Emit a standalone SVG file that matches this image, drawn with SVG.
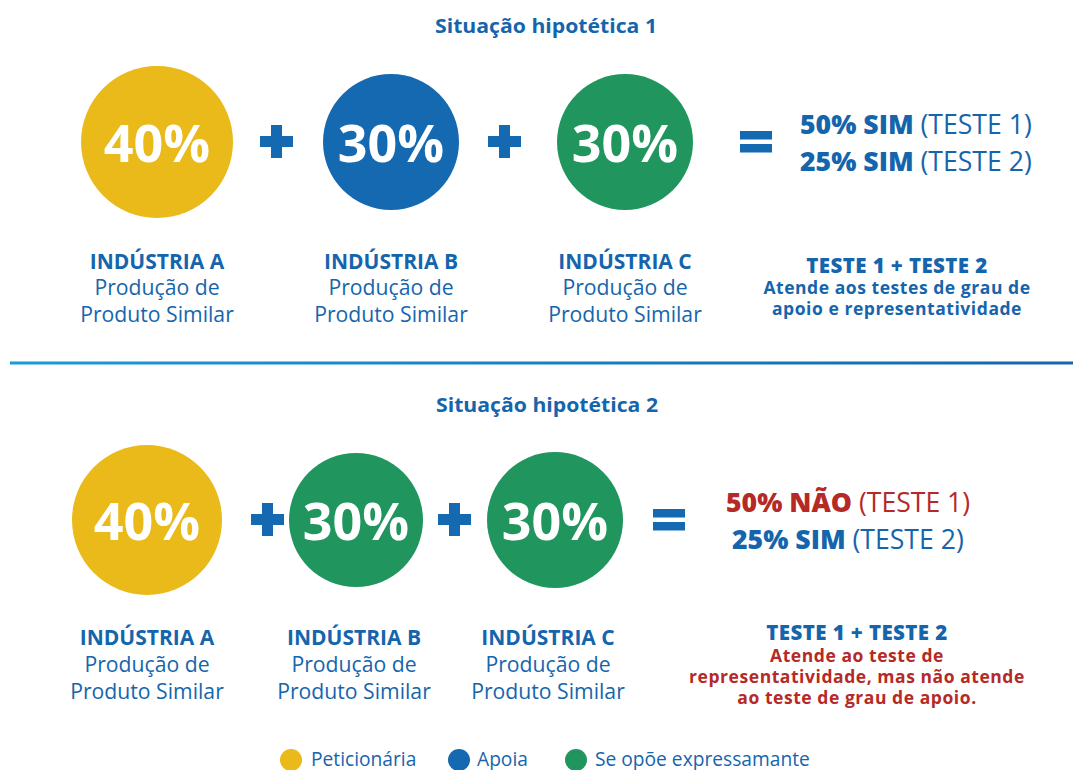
<svg xmlns="http://www.w3.org/2000/svg" width="1073" height="770" viewBox="0 0 1073 770">
  <defs>
    <linearGradient id="divider" x1="0" y1="0" x2="1" y2="0">
      <stop offset="0" stop-color="#1a9bd7"/>
      <stop offset="1" stop-color="#1466ad"/>
    </linearGradient>
  </defs>
  <style>
    text { font-family: "Open Sans", "Noto Sans", "Liberation Sans", sans-serif; }
    .title { font-size: 19px; font-weight: 700; fill: #1565ad; text-anchor: middle; }
    .pct { font-size: 52px; font-weight: 700; fill: #ffffff; text-anchor: middle; }
    .name { font-size: 21px; font-weight: 700; fill: #1565ad; text-anchor: middle; }
    .desc { font-size: 21.2px; font-weight: 400; fill: #1565ad; text-anchor: middle; }
    .res { font-size: 26.6px; fill: #1565ad; }
    .res .b { font-weight: 800; }
    .red { fill: #b52a26; }
    .sum { font-size: 20.5px; font-weight: 800; fill: #1565ad; text-anchor: middle; letter-spacing: 0.4px; }
    .note { font-size: 17.5px; font-weight: 700; fill: #1565ad; text-anchor: middle; letter-spacing: 0.55px; }
    .note.red { fill: #b52a26; }
    .op { fill: #1569b0; }
    .yellow { fill: #eab91a; }
    .blue { fill: #1569b0; }
    .green { fill: #20965e; }
    .legend { font-size: 19.2px; fill: #1565ad; }
  </style>

  <!-- Scenario 1 -->
  <text class="title" x="546" y="33" textLength="222" lengthAdjust="spacingAndGlyphs">Situação hipotética 1</text>

  <g id="s1-industria-a">
    <circle class="yellow" cx="157" cy="142" r="76"/>
    <text class="pct" x="157" y="162">40%</text>
    <text class="name" x="157" y="269">INDÚSTRIA A</text>
    <text class="desc" x="157" y="295">Produção de</text>
    <text class="desc" x="157" y="322">Produto Similar</text>
  </g>
  <g id="s1-plus-1" class="op">
    <rect x="260" y="136" width="33" height="11"/>
    <rect x="271" y="125" width="11" height="33"/>
  </g>
  <g id="s1-industria-b">
    <circle class="blue" cx="391" cy="142" r="68"/>
    <text class="pct" x="391" y="162">30%</text>
    <text class="name" x="391" y="269">INDÚSTRIA B</text>
    <text class="desc" x="391" y="295">Produção de</text>
    <text class="desc" x="391" y="322">Produto Similar</text>
  </g>
  <g id="s1-plus-2" class="op">
    <rect x="488" y="136" width="33" height="11"/>
    <rect x="499" y="125" width="11" height="33"/>
  </g>
  <g id="s1-industria-c">
    <circle class="green" cx="625" cy="142" r="68"/>
    <text class="pct" x="625" y="162">30%</text>
    <text class="name" x="625" y="269">INDÚSTRIA C</text>
    <text class="desc" x="625" y="295">Produção de</text>
    <text class="desc" x="625" y="322">Produto Similar</text>
  </g>
  <g id="s1-equals" class="op">
    <rect x="740" y="131" width="32" height="8.5"/>
    <rect x="740" y="144" width="32" height="8.5"/>
  </g>
  <g id="s1-result">
    <text class="res" x="800" y="134"><tspan class="b">50% SIM</tspan> (TESTE 1)</text>
    <text class="res" x="800" y="171"><tspan class="b">25% SIM</tspan> (TESTE 2)</text>
    <text class="sum" x="897" y="273">TESTE 1 + TESTE 2</text>
    <text class="note" x="897" y="294">Atende aos testes de grau de</text>
    <text class="note" x="897" y="315">apoio e representatividade</text>
  </g>

  <!-- Divider -->
  <rect x="10" y="361.5" width="1063" height="3" fill="url(#divider)"/>

  <!-- Scenario 2 -->
  <text class="title" x="547" y="412" textLength="222" lengthAdjust="spacingAndGlyphs">Situação hipotética 2</text>

  <g id="s2-industria-a">
    <circle class="yellow" cx="147" cy="520" r="75"/>
    <text class="pct" x="147" y="540">40%</text>
    <text class="name" x="147" y="645">INDÚSTRIA A</text>
    <text class="desc" x="147" y="672">Produção de</text>
    <text class="desc" x="147" y="699">Produto Similar</text>
  </g>
  <g id="s2-plus-1" class="op">
    <rect x="251" y="514" width="33" height="11"/>
    <rect x="262" y="503" width="11" height="33"/>
  </g>
  <g id="s2-industria-b">
    <circle class="green" cx="356" cy="520" r="67"/>
    <text class="pct" x="356" y="540">30%</text>
    <text class="name" x="354" y="645">INDÚSTRIA B</text>
    <text class="desc" x="354" y="672">Produção de</text>
    <text class="desc" x="354" y="699">Produto Similar</text>
  </g>
  <g id="s2-plus-2" class="op">
    <rect x="438" y="514" width="33" height="11"/>
    <rect x="449" y="503" width="11" height="33"/>
  </g>
  <g id="s2-industria-c">
    <circle class="green" cx="555" cy="520" r="68"/>
    <text class="pct" x="555" y="540">30%</text>
    <text class="name" x="548" y="645">INDÚSTRIA C</text>
    <text class="desc" x="548" y="672">Produção de</text>
    <text class="desc" x="548" y="699">Produto Similar</text>
  </g>
  <g id="s2-equals" class="op">
    <rect x="653" y="509" width="32" height="8.5"/>
    <rect x="653" y="522" width="32" height="8.5"/>
  </g>
  <g id="s2-result">
    <text class="res red" x="726" y="512"><tspan class="b">50% NÃO</tspan> (TESTE 1)</text>
    <text class="res" x="732" y="549"><tspan class="b">25% SIM</tspan> (TESTE 2)</text>
    <text class="sum" x="857" y="640">TESTE 1 + TESTE 2</text>
    <text class="note red" x="857" y="662">Atende ao teste de</text>
    <text class="note red" x="857" y="683">representatividade, mas não atende</text>
    <text class="note red" x="857" y="704">ao teste de grau de apoio.</text>
  </g>

  <!-- Legend -->
  <g id="legend">
    <circle class="yellow" cx="291" cy="760" r="11"/>
    <text class="legend" x="311" y="766">Peticionária</text>
    <circle class="blue" cx="459" cy="760" r="11"/>
    <text class="legend" x="477" y="766">Apoia</text>
    <circle class="green" cx="576" cy="760" r="11"/>
    <text class="legend" x="595" y="766">Se opõe expressamante</text>
  </g>
</svg>
